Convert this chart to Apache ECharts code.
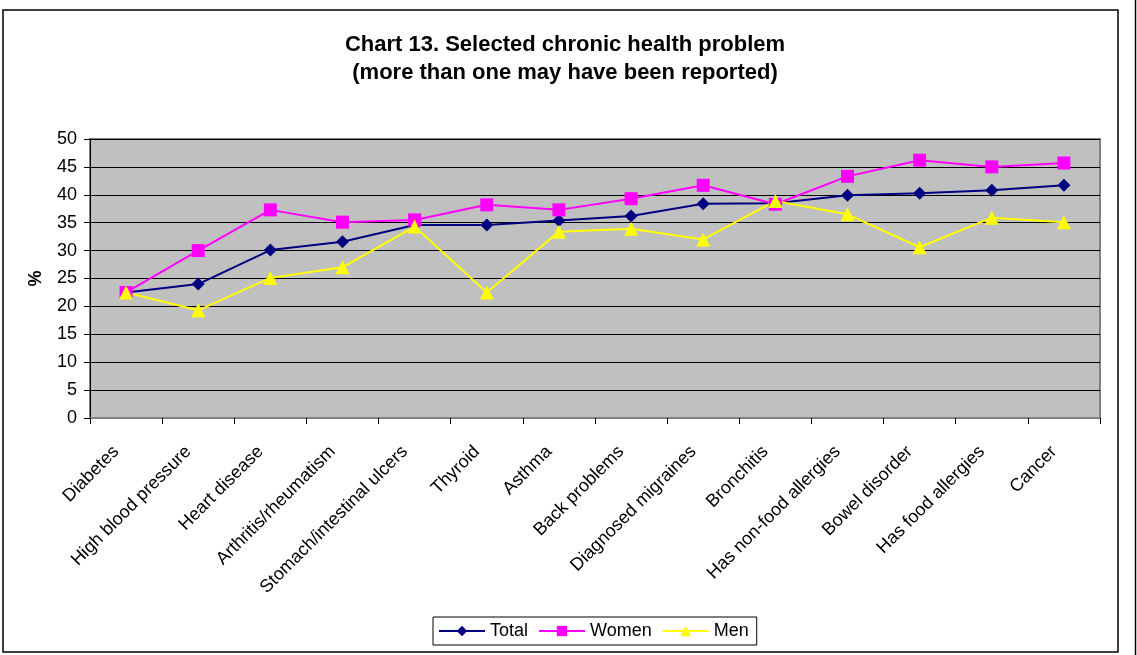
<!DOCTYPE html>
<html>
<head>
<meta charset="utf-8">
<script src="https://cdn.jsdelivr.net/npm/echarts@6/dist/echarts.min.js"></script>
<style>html,body{margin:0;padding:0;background:#fff;}#c{width:1137px;height:655px;}</style>
</head>
<body>
<div id="c"></div>
<script>
var categories = ["Diabetes","High blood pressure","Heart disease","Arthritis/rheumatism","Stomach/intestinal ulcers","Thyroid","Asthma","Back problems","Diagnosed migraines","Bronchitis","Has non-food allergies","Bowel disorder","Has food allergies","Cancer"];
var total = [22.5,24.0,30.1,31.6,34.6,34.6,35.4,36.2,38.4,38.5,39.9,40.3,40.8,41.7];
var women = [22.5,30.0,37.3,35.1,35.5,38.2,37.3,39.3,41.7,38.3,43.3,46.2,45.0,45.7];
var men = [22.5,19.3,25.1,27.0,34.3,22.5,33.4,33.9,32.0,38.9,36.5,30.6,35.9,35.1];
var yTicks = {min:0, max:50, interval:5};

var chart = echarts.init(document.getElementById('c'), null, {renderer:'canvas'});
var font = '"Liberation Sans", Arial, sans-serif';
chart.setOption({
  animation:false,
  backgroundColor:'#fff',
  textStyle:{fontFamily:font},
  title:{
    text:'Chart 13. Selected chronic health problem\n(more than one may have been reported)',
    left:560, top:26, textAlign:'center',
    textStyle:{fontSize:22, fontWeight:'bold', color:'#000', lineHeight:28, fontFamily:font}
  },
  graphic:[
    {type:'rect', shape:{x:3,y:10,width:1115,height:642}, style:{fill:null, stroke:'#000', lineWidth:1.5}, z:-1},
    {type:'line', shape:{x1:1135.5,y1:0,x2:1135.5,y2:655}, style:{stroke:'#000', lineWidth:1.5}}
  ],
  legend:{
    left:433, top:617, height:29,
    data:['Total','Women','Men'],
    borderColor:'#000', borderWidth:1, padding:[5,8,5,5],
    itemWidth:46, itemHeight:13, itemGap:10,
    textStyle:{fontSize:18, color:'#000', fontFamily:font}
  },
  grid:{left:90, right:37, top:139, bottom:237, show:true, backgroundColor:'#C0C0C0', borderColor:'#808080', borderWidth:2},
  xAxis:{
    type:'category', data:categories, boundaryGap:true,
    axisLine:{lineStyle:{color:'#808080', width:2}},
    axisTick:{show:true, inside:false, length:6, lineStyle:{color:'#000'}},
    axisLabel:{rotate:45, fontSize:18, color:'#000', margin:21, padding:[0,14,0,0], interval:0, fontFamily:font}
  },
  yAxis:{
    type:'value', min:yTicks.min, max:yTicks.max, interval:yTicks.interval,
    name:'%', nameLocation:'middle', nameGap:45, nameRotate:90,
    nameTextStyle:{fontSize:18, fontWeight:'bold', color:'#000', fontFamily:font},
    axisLine:{show:true, lineStyle:{color:'#000', width:1}},
    axisTick:{show:true, inside:false, length:6, lineStyle:{color:'#000'}},
    axisLabel:{fontSize:18, color:'#000', margin:13, fontFamily:font},
    splitLine:{show:true, lineStyle:{color:'#000', width:1}}
  },
  series:[
    {name:'Total', type:'line', data:total, symbol:'diamond', symbolSize:13,
     itemStyle:{color:'#000080'}, lineStyle:{color:'#000080', width:2}},
    {name:'Women', type:'line', data:women, symbol:'rect', symbolSize:13,
     itemStyle:{color:'#FF00FF'}, lineStyle:{color:'#FF00FF', width:2}},
    {name:'Men', type:'line', data:men, symbol:'triangle', symbolSize:14,
     itemStyle:{color:'#FFFF00'}, lineStyle:{color:'#FFFF00', width:2}}
  ]
});
</script>
</body>
</html>
